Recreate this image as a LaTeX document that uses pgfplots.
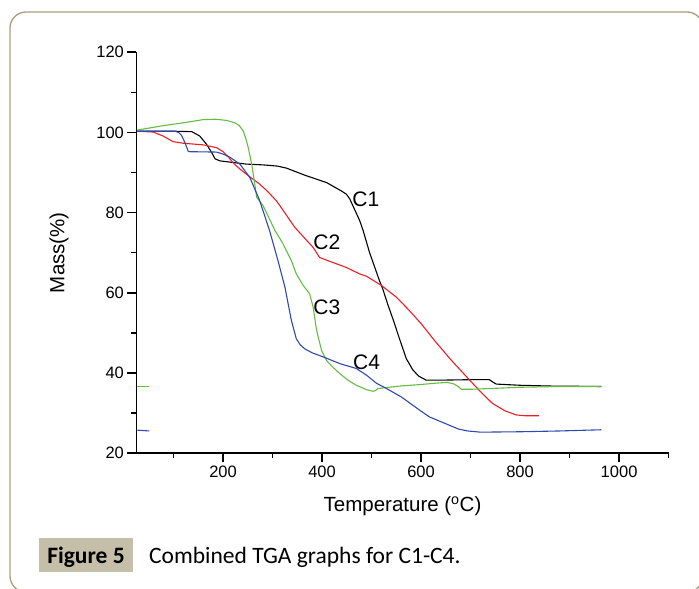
\documentclass[border=0pt]{standalone}
\usepackage{fontspec}
\setmainfont{Liberation Sans}
\newfontfamily\capfont{Carlito}
\usepackage{pgfplots}
\pgfplotsset{compat=1.18}

\definecolor{cblack}{RGB}{0,0,0}
\definecolor{cred}{RGB}{236,30,36}
\definecolor{cgreen}{RGB}{102,187,68}
\definecolor{cblue}{RGB}{48,72,176}
\definecolor{framecol}{RGB}{168,158,125}
\definecolor{capbox}{RGB}{197,190,168}

\begin{document}
\begin{tikzpicture}
\useasboundingbox (0,0) rectangle (699pt,589pt);
\clip (0,0) rectangle (699pt,589pt);
% frame round the figure
\draw[framecol, line width=1.3pt, rounded corners=16pt] (10pt,-3pt) rectangle (703pt,577pt);

\begin{axis}[
    at={(136.4pt,136pt)}, anchor=south west,
    scale only axis,
    width=532.2pt, height=400.7pt,
    xmin=25, xmax=1100,
    ymin=20, ymax=120,
    axis x line*=bottom, axis y line*=left,
    axis line style={-, line width=1.6pt},
    xtick={200,400,600,800,1000},
    minor xtick={100,300,500,700,900,1100},
    ytick={20,40,60,80,100,120},
    minor ytick={30,50,70,90,110},
    tick align=outside,
    xtick pos=bottom, ytick pos=left,
    major tick length=9pt, minor tick length=5pt,
    every tick/.style={black, line width=1.6pt},
    /pgf/number format/assume math mode=true,
    /pgf/number format/1000 sep={},
    tick label style={font=\fontsize{16.5}{19}\selectfont},
    xlabel={Temperature (\textsuperscript{o}C)},
    ylabel={Mass(\%)},
    label style={font=\fontsize{20.5}{23}\selectfont},
    xlabel style={at={(axis description cs:0.5,-0.1472)}, anchor=base},
    ylabel style={at={(axis description cs:-0.1454,0.5)}, anchor=center},
    clip=true,
    every axis plot/.append style={line width=1.1pt, line join=round, no markers},
]
% C1
\addplot[cblack] coordinates {
(27,100.3) (60,100.3) (100,100.3) (137,100.2) (153,99.1) (167,97) (177,95)
(184,93.4) (194,92.9) (220,92.5) (247,92.1) (281,91.9) (310,91.6) (328,91.1)
(368,89.2) (409,87.5) (439,85.4) (449,84.6) (456,83.4) (466,80.7) (476,78)
(483,75.5) (496,70) (506,66.5) (516,63) (523,60.8) (533,57) (543,53.5)
(557,48.3) (570,43.6) (583,40.8) (595,39.2) (610,38.2) (650,38.2) (700,38.3)
(738,38.3) (745,37.7) (752,37.2) (800,36.9) (865,36.7) (964,36.6)
};
% C2
\addplot[cred] coordinates {
(27,100.3) (59,100.1) (79,99.1) (99,97.7) (120,97.3) (160,96.9) (187,96.2)
(200,95.2) (210,94) (217,92.9) (227,91.6) (247,89.6) (274,87.1) (290,85.3)
(308,82.9) (315,81.7) (345,76.3) (382,71.3) (395,68.8) (412,68) (449,66.3)
(476,64.7) (490,64.1) (520,61.8) (550,58.9) (573,56) (600,52.3) (627,48.1)
(660,43.3) (698,38.2) (720,35.3) (744,32.4) (770,30.5) (792,29.5) (810,29.3)
(838,29.3)
};
% C3
\addplot[cgreen] coordinates {
(27,100.6) (80,101.7) (130,102.6) (160,103.2) (185,103.3) (207,103) (224,102.4)
(233,101.7) (241,100.3) (246,98.5) (251,96.2) (258,92) (263,88) (268,83.8)
(281,81.7) (305,75.5) (320,72.5) (338,68) (348,64.7) (362,61.8) (375,59.7)
(382,56.4) (389,50.6) (399,45.6) (409,43.1) (421,41.5) (436,39.8) (452,38.2)
(469,36.9) (490,35.8) (503,35.4) (508,35.6) (513,36.1) (557,36.7) (600,37.1)
(637,37.5) (653,37.6) (665,37.3) (675,36.6) (681,35.9) (700,35.9) (741,36.1)
(800,36.4) (880,36.6) (964,36.6)
};
\addplot[cgreen] coordinates {(27,36.7) (51,36.7)};
% C4
\addplot[cblue] coordinates {
(27,100.3) (103,100.3) (110,100) (116,99.3) (123,97.5) (130,95.2) (187,95.1)
(200,94.6) (214,93.8) (234,92.1) (254,88.8) (274,83) (294,75.5) (311,68)
(325,61.4) (338,53.1) (348,48.5) (356,47) (365,46) (380,45) (402,44)
(436,42.3) (469,41.1) (490,39.4) (510,37.4) (530,36.1) (560,34) (597,30.7)
(617,29) (650,27.3) (675,26) (694,25.5) (720,25.2) (800,25.3) (880,25.5)
(964,25.8)
};
\addplot[cblue] coordinates {(27,25.7) (51,25.5)};

\begin{scope}[every node/.style={font=\fontsize{21}{23}\selectfont, inner sep=0pt, anchor=west}]
\node at (axis cs:461,83.4) {C1};
\node at (axis cs:382,72.5) {C2};
\node at (axis cs:382,56.4) {C3};
\node at (axis cs:462.5,42.7) {C4};
\end{scope}
\end{axis}

% caption
\fill[capbox] (39pt,17pt) rectangle (133pt,51pt);
\node[anchor=base, inner sep=0pt, font=\capfont\bfseries\fontsize{23.5}{26}\selectfont] at (86pt,25.7pt) {Figure 5};
\node[anchor=base west, inner sep=0pt, font=\capfont\fontsize{23.5}{26}\selectfont] at (149pt,25.7pt) {Combined TGA graphs for C1-C4.};
\end{tikzpicture}
\end{document}
